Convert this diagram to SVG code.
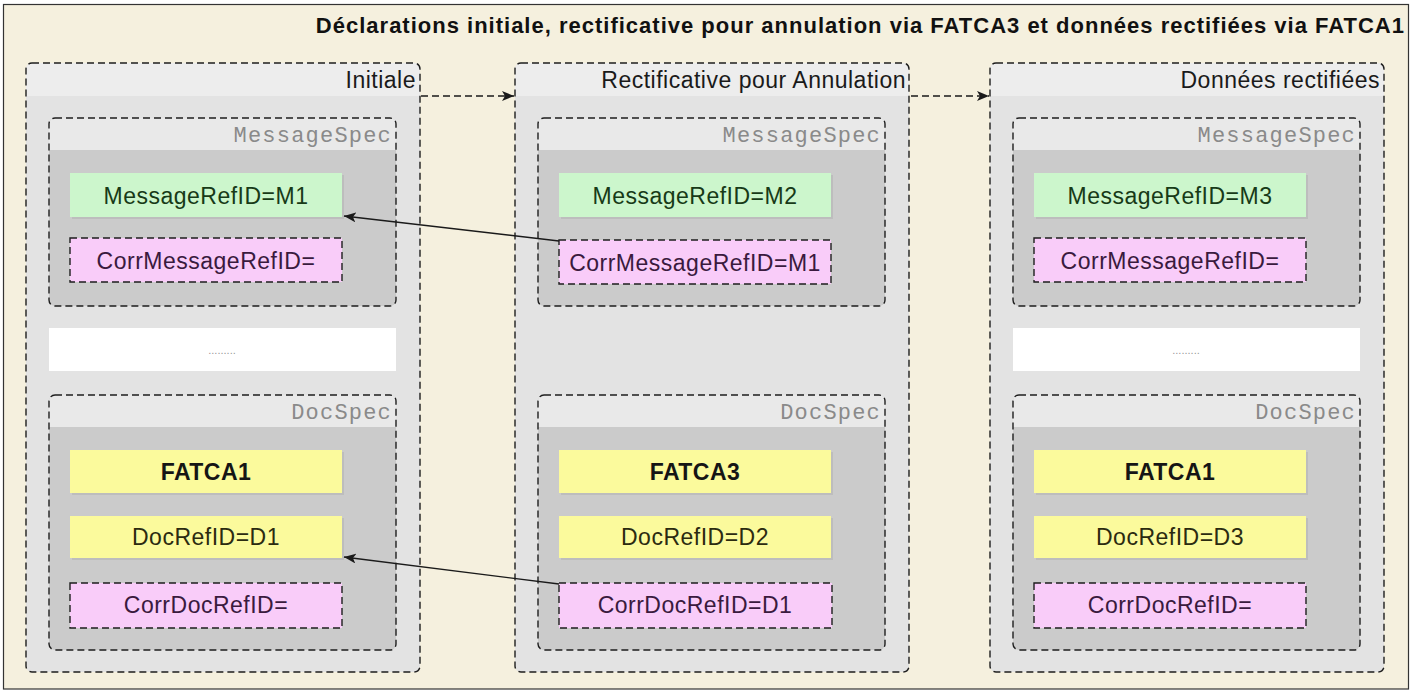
<svg xmlns="http://www.w3.org/2000/svg" width="1416" height="691" viewBox="0 0 1416 691">
  <style>
    .frame { fill: #f5f0de; stroke: #333; stroke-width: 1.2; }
    .title { font-family: "Liberation Sans", Arial, sans-serif; font-weight: bold; font-size: 22px; letter-spacing: 1px; fill: #111; text-anchor: end; }
    .dash { stroke: #1e1e1e; stroke-width: 1.4; stroke-dasharray: 7 4; fill: none; }
    .colHead { fill: #ededed; }
    .colBody { fill: #e3e3e3; }
    .colTitle { font-family: "Liberation Sans", Arial, sans-serif; font-size: 23px; letter-spacing: 0.5px; fill: #1a1a1a; text-anchor: end; }
    .specHead { fill: #e9e9e9; }
    .specBody { fill: #cbcbcb; }
    .specTitle { font-family: "Liberation Mono", "Courier New", monospace; font-size: 22px; letter-spacing: 1.2px; fill: #8a8a8a; text-anchor: end; }
    .green { fill: #ccf6cc; }
    .yellow { fill: #fbfa9c; }
    .pink { fill: #f9ccf9; }
    .white { fill: #ffffff; }
    .shadow { fill: #bdbdbd; }
    .item { font-family: "Liberation Sans", Arial, sans-serif; font-size: 23px; letter-spacing: 0.5px; text-anchor: middle; }
    .tGreen { fill: #173a17; }
    .tYellow { fill: #2b2b10; }
    .tPink { fill: #3a1a3e; }
    .bold { font-weight: bold; fill: #151515; }
    .dots { font-family: "Liberation Sans", Arial, sans-serif; font-size: 11px; fill: #999; text-anchor: middle; }
    .conn { stroke: #1a1a1a; stroke-width: 1.4; fill: none; }
    .connDash { stroke: #1a1a1a; stroke-width: 1.4; fill: none; stroke-dasharray: 7 4; }
  </style>
  <defs>
    <marker id="arrow" viewBox="0 0 12 10" refX="12" refY="5" markerWidth="12" markerHeight="10" markerUnits="userSpaceOnUse" orient="auto">
      <path d="M0,0 L12,5 L0,10 L3,5 z" fill="#1a1a1a"/>
    </marker>

    <!-- one declaration column, header band + body, drawn at the origin and translated -->
    <g id="colShell">
      <rect x="26" y="63" width="394" height="609" rx="6" class="colBody"/>
      <path d="M32,63 H414 A6,6 0 0 1 420,69 V96 H26 V69 A6,6 0 0 1 32,63 z" class="colHead"/>
      <rect x="26" y="63" width="394" height="609" rx="6" class="dash"/>
    </g>

    <!-- MessageSpec frame -->
    <g id="msgShell">
      <rect x="49" y="118" width="347" height="188" rx="6" class="specBody"/>
      <path d="M55,118 H390 A6,6 0 0 1 396,124 V150 H49 V124 A6,6 0 0 1 55,118 z" class="specHead"/>
      <rect x="49" y="118" width="347" height="188" rx="6" class="dash"/>
      <text x="392" y="142" class="specTitle">MessageSpec</text>
    </g>

    <!-- DocSpec frame -->
    <g id="docShell">
      <rect x="49" y="395" width="347" height="255" rx="6" class="specBody"/>
      <path d="M55,395 H390 A6,6 0 0 1 396,401 V427 H49 V401 A6,6 0 0 1 55,395 z" class="specHead"/>
      <rect x="49" y="395" width="347" height="255" rx="6" class="dash"/>
      <text x="392" y="419" class="specTitle">DocSpec</text>
    </g>
  </defs>

  <!-- outer frame -->
  <rect x="3.5" y="4.5" width="1405" height="684.5" class="frame"/>
  <text x="1405" y="33" class="title">Déclarations initiale, rectificative pour annulation via FATCA3 et données rectifiées via FATCA1</text>

  <!-- column: Initiale -->
  <g id="initiale">
    <use href="#colShell"/>
    <text x="416" y="88" class="colTitle">Initiale</text>
    <g id="initiale-messagespec">
      <use href="#msgShell"/>
      <rect x="72" y="175" width="272" height="44" class="shadow"/>
      <rect x="70" y="173" width="272" height="44" class="green"/>
      <text x="206" y="204" class="item tGreen">MessageRefID=M1</text>
      <rect x="70" y="238" width="272" height="44" class="pink"/>
      <rect x="70" y="238" width="272" height="44" class="dash"/>
      <text x="206" y="269" class="item tPink">CorrMessageRefID=</text>
    </g>
    <g id="initiale-etc">
      <rect x="49" y="328" width="347" height="43" class="white"/>
      <text x="222" y="354" class="dots">.........</text>
    </g>
    <g id="initiale-docspec">
      <use href="#docShell"/>
      <rect x="72" y="452" width="272" height="43" class="shadow"/>
      <rect x="70" y="450" width="272" height="43" class="yellow"/>
      <text x="206" y="480" class="item bold">FATCA1</text>
      <rect x="72" y="518" width="272" height="42" class="shadow"/>
      <rect x="70" y="516" width="272" height="42" class="yellow"/>
      <text x="206" y="545" class="item tYellow">DocRefID=D1</text>
      <rect x="70" y="583" width="272" height="45" class="pink"/>
      <rect x="70" y="583" width="272" height="45" class="dash"/>
      <text x="206" y="613" class="item tPink">CorrDocRefID=</text>
    </g>
  </g>

  <!-- column: Rectificative pour Annulation -->
  <g id="rectificative" transform="translate(489,0)">
    <use href="#colShell"/>
    <text x="417" y="88" class="colTitle">Rectificative pour Annulation</text>
    <g id="rectificative-messagespec">
      <use href="#msgShell"/>
      <rect x="72" y="175" width="272" height="44" class="shadow"/>
      <rect x="70" y="173" width="272" height="44" class="green"/>
      <text x="206" y="204" class="item tGreen">MessageRefID=M2</text>
      <rect x="70" y="240" width="272" height="44" class="pink"/>
      <rect x="70" y="240" width="272" height="44" class="dash"/>
      <text x="206" y="271" class="item tPink">CorrMessageRefID=M1</text>
    </g>
    <g id="rectificative-docspec">
      <use href="#docShell"/>
      <rect x="72" y="452" width="272" height="43" class="shadow"/>
      <rect x="70" y="450" width="272" height="43" class="yellow"/>
      <text x="206" y="480" class="item bold">FATCA3</text>
      <rect x="72" y="518" width="272" height="42" class="shadow"/>
      <rect x="70" y="516" width="272" height="42" class="yellow"/>
      <text x="206" y="545" class="item tYellow">DocRefID=D2</text>
      <rect x="70" y="583" width="273" height="45" class="pink"/>
      <rect x="70" y="583" width="273" height="45" class="dash"/>
      <text x="206" y="613" class="item tPink">CorrDocRefID=D1</text>
    </g>
  </g>

  <!-- column: Données rectifiées -->
  <g id="donnees" transform="translate(964,0)">
    <use href="#colShell"/>
    <text x="416" y="88" class="colTitle">Données rectifiées</text>
    <g id="donnees-messagespec">
      <use href="#msgShell"/>
      <rect x="72" y="175" width="272" height="44" class="shadow"/>
      <rect x="70" y="173" width="272" height="44" class="green"/>
      <text x="206" y="204" class="item tGreen">MessageRefID=M3</text>
      <rect x="70" y="238" width="272" height="44" class="pink"/>
      <rect x="70" y="238" width="272" height="44" class="dash"/>
      <text x="206" y="269" class="item tPink">CorrMessageRefID=</text>
    </g>
    <g id="donnees-etc">
      <rect x="49" y="328" width="347" height="43" class="white"/>
      <text x="222" y="354" class="dots">.........</text>
    </g>
    <g id="donnees-docspec">
      <use href="#docShell"/>
      <rect x="72" y="452" width="272" height="43" class="shadow"/>
      <rect x="70" y="450" width="272" height="43" class="yellow"/>
      <text x="206" y="480" class="item bold">FATCA1</text>
      <rect x="72" y="518" width="272" height="42" class="shadow"/>
      <rect x="70" y="516" width="272" height="42" class="yellow"/>
      <text x="206" y="545" class="item tYellow">DocRefID=D3</text>
      <rect x="70" y="583" width="272" height="45" class="pink"/>
      <rect x="70" y="583" width="272" height="45" class="dash"/>
      <text x="206" y="613" class="item tPink">CorrDocRefID=</text>
    </g>
  </g>

  <!-- connectors -->
  <g id="connectors">
    <line x1="421" y1="96" x2="514" y2="96" class="connDash" marker-end="url(#arrow)"/>
    <line x1="911" y1="96" x2="989" y2="96" class="connDash" marker-end="url(#arrow)"/>
    <line x1="559" y1="241" x2="344" y2="216" class="conn" marker-end="url(#arrow)"/>
    <line x1="559" y1="584" x2="344" y2="557" class="conn" marker-end="url(#arrow)"/>
  </g>
</svg>
